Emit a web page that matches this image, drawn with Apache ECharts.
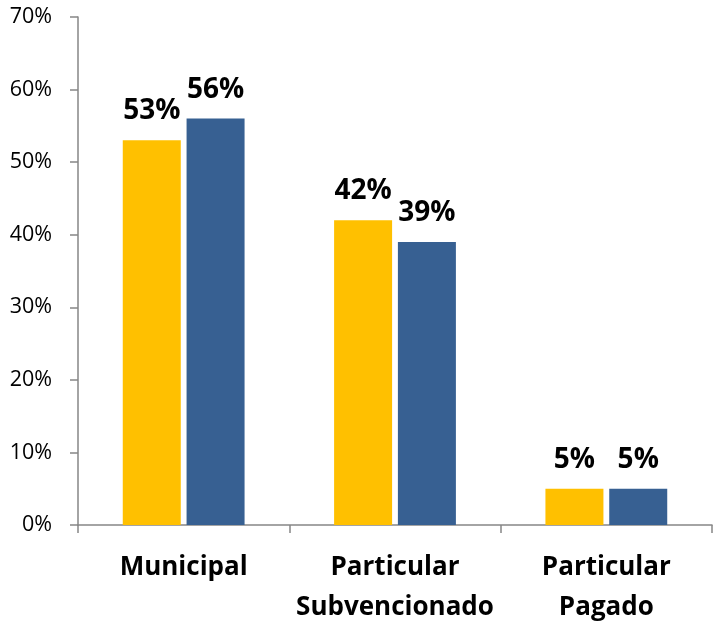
<!DOCTYPE html>
<html><head><meta charset="utf-8">
<script src="https://cdn.jsdelivr.net/npm/echarts@6/dist/echarts.min.js"></script>
<style>html,body{margin:0;padding:0;background:#fff}#c{width:714px;height:621px}</style>
</head><body><div id="c"></div>
<script>
const categories = ['Municipal', 'Particular\nSubvencionado', 'Particular\nPagado'];
const seriesA = [53, 42, 5];
const seriesB = [56, 39, 5];
const yTicks = [0, 10, 20, 30, 40, 50, 60, 70];

const font = 'Open Sans';
const chart = echarts.init(document.getElementById('c'));
const lbl = {show: true, position: 'top', distance: 15, formatter: p => p.value + '%',
  fontFamily: font, fontWeight: 'bold', fontSize: 28, color: '#000'};
chart.setOption({
  animation: false,
  grid: {left: 78, right: 2, top: 17, bottom: 96, outerBoundsMode: 'none', containLabel: false},
  xAxis: {type: 'category', data: categories,
    axisLine: {lineStyle: {color: '#868686', width: 1.5}},
    axisTick: {show: true, length: 8, interval: 0, lineStyle: {color: '#868686', width: 1.5}},
    axisLabel: {interval: 0, hideOverlap: false, fontFamily: font, fontWeight: 'bold', fontSize: 26, color: '#000', margin: 23, lineHeight: 40}},
  yAxis: {type: 'value', min: 0, max: 70, interval: 10,
    axisLine: {show: true, lineStyle: {color: '#868686', width: 1.5}},
    axisTick: {show: true, length: 8, lineStyle: {color: '#868686', width: 1.5}},
    splitLine: {show: false},
    axisLabel: {fontFamily: font, fontSize: 21.5, color: '#000', margin: 26, formatter: v => v + '%'}},
  series: [
    {type: 'bar', data: seriesA, barWidth: 58, barGap: '10%', itemStyle: {color: '#FFC000'}, label: lbl},
    {type: 'bar', data: seriesB, barWidth: 58, barGap: '10%', itemStyle: {color: '#376092'}, label: lbl}
  ]
});
</script></body></html>
